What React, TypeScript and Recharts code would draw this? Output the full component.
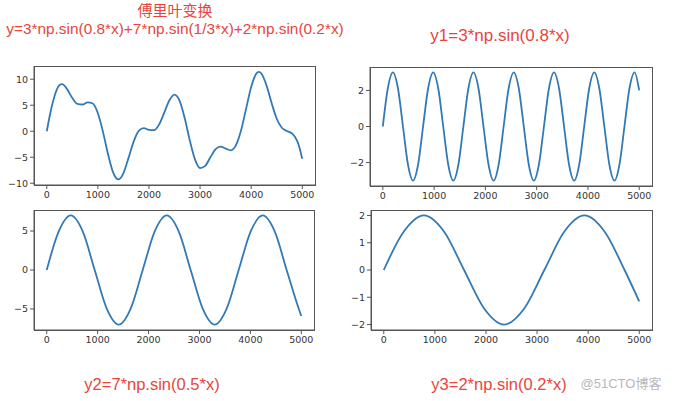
import { LineChart, Line, XAxis, YAxis } from 'recharts';

const LINE = '#3279b5';
const FRAME = '#555';
const RED = '#e8453c';

const X_DOMAIN: [number, number] = [-250, 5249];
const X_TICKS = [0, 1000, 2000, 3000, 4000, 5000];

// y = 3sin(0.8x) + 7sin(x/3) + 2sin(0.2x)
const sumX = [
  0, 100, 200, 250, 300, 350, 400, 500, 600, 700, 800, 900, 1000, 1100, 1200, 1300, 1350, 1400,
  1450, 1500, 1600, 1700, 1800, 1900, 2000, 2100, 2200, 2300, 2400, 2500, 2600, 2700, 2800,
  2900, 3000, 3100, 3200, 3300, 3400, 3500, 3600, 3700, 3800, 3900, 4000, 4100, 4150, 4200,
  4300, 4400, 4500, 4600, 4700, 4800, 4900, 4950, 4999,
];
const sumY = [
  0, 4.84, 8.11, 8.87, 9.05, 8.73, 8.06, 6.38, 5.24, 5.14, 5.55, 5.32, 3.45, -0.12, -4.47, -7.96,
  -8.93, -9.26, -8.94, -8.04, -5.12, -2.0, 0.06, 0.59, 0.24, 0.2, 1.32, 3.59, 5.96, 7.03, 5.83,
  2.48, -1.81, -5.41, -7.08, -6.67, -5.04, -3.51, -2.98, -3.34, -3.67, -2.73, 0.08, 4.3, 8.49,
  11.07, 11.41, 11.1, 8.81, 5.42, 2.4, 0.67, 0.04, -0.43, -1.86, -3.3, -5.3,
];

// y1
const y1X = [
  0, 98, 196, 295, 393, 491, 589, 687, 785, 884, 982, 1080, 1178, 1276, 1374, 1473, 1571, 1669,
  1767, 1865, 1963, 2062, 2160, 2258, 2356, 2454, 2553, 2651, 2749, 2847, 2945, 3043, 3142, 3240,
  3338, 3436, 3534, 3632, 3731, 3829, 3927, 4025, 4123, 4221, 4320, 4418, 4516, 4614, 4712, 4810,
  4909, 4999,
];
const y1Y = [
  0, 2.12, 3, 2.12, 0, -2.12, -3, -2.12,
  0, 2.12, 3, 2.12, 0, -2.12, -3, -2.12,
  0, 2.12, 3, 2.12, 0, -2.12, -3, -2.12,
  0, 2.12, 3, 2.12, 0, -2.12, -3, -2.12,
  0, 2.12, 3, 2.12, 0, -2.12, -3, -2.12,
  0, 2.12, 3, 2.12, 0, -2.12, -3, -2.12,
  0, 2.12, 3, 2.0,
];

// y2
const y2X = [
  0, 236, 471, 707, 942, 1178, 1414, 1649, 1885, 2121, 2356, 2592, 2827, 3063, 3299, 3534, 3770,
  4006, 4241, 4477, 4712, 4948, 4999,
];
const y2Y = [
  0, 4.95, 7, 4.95, 0, -4.95, -7, -4.95, 0, 4.95, 7, 4.95, 0, -4.95, -7, -4.95, 0, 4.95, 7, 4.95,
  0, -4.95, -5.9,
];

// y3
const y3X = [0, 393, 785, 1178, 1571, 1963, 2356, 2749, 3142, 3534, 3927, 4320, 4712, 4999];
const y3Y = [0, 1.41, 2, 1.41, 0, -1.41, -2, -1.41, 0, 1.41, 2, 1.41, 0, -1.15];

const fmt = (v: number) => String(v).replace('-', '\u2212');

type Box = { left: number; top: number; width: number; height: number };

function Panel({
  xs,
  ys,
  yDomain,
  yTicks,
  box,
}: {
  xs: number[];
  ys: number[];
  yDomain: [number, number];
  yTicks: number[];
  box: Box;
}) {
  const data = xs.map((x, i) => ({ x, y: ys[i] }));
  const yw = 40;
  const xh = 24;
  const m = 2;
  const tick = { fontSize: 9.5, fill: '#333', fontFamily: 'DejaVu Sans' };
  return (
    <>
      <div style={{ position: 'absolute', left: box.left - yw, top: box.top - m }}>
        <LineChart
          width={box.width + yw + m}
          height={box.height + m + xh}
          data={data}
          margin={{ top: m, right: m, bottom: 0, left: 0 }}
        >
          <XAxis
            dataKey="x"
            type="number"
            domain={X_DOMAIN}
            ticks={X_TICKS}
            interval={0}
            allowDataOverflow
            height={xh}
            tickSize={4}
            tickMargin={2}
            tick={tick}
            axisLine={{ stroke: FRAME }}
            tickLine={{ stroke: FRAME }}
          />
          <YAxis
            type="number"
            domain={yDomain}
            ticks={yTicks}
            interval={0}
            allowDataOverflow
            width={yw}
            tickSize={4}
            tickMargin={2}
            tick={tick}
            tickFormatter={fmt}
            axisLine={{ stroke: FRAME }}
            tickLine={{ stroke: FRAME }}
          />
          <Line
            dataKey="y"
            type="monotone"
            dot={false}
            stroke={LINE}
            strokeWidth={1.8}
            isAnimationActive={false}
          />
        </LineChart>
      </div>
      {/* axes frame (top/right spines) */}
      <div
        style={{
          position: 'absolute',
          boxSizing: 'border-box',
          left: box.left - 0.5,
          top: box.top - 0.5,
          width: box.width + 1,
          height: box.height + 1,
          border: `1px solid ${FRAME}`,
          pointerEvents: 'none',
        }}
      />
    </>
  );
}

const label = (text: string, cx: number, cy: number, size: number, color = RED) => (
  <div
    style={{
      position: 'absolute',
      left: cx - 200,
      top: cy - 12,
      width: 400,
      height: 24,
      lineHeight: '24px',
      textAlign: 'center',
      fontSize: size,
      color,
      whiteSpace: 'nowrap',
      fontFamily: '"Liberation Sans", "Noto Sans CJK SC", sans-serif',
    }}
  >
    {text}
  </div>
);

export default function App() {
  return (
    <div
      style={{
        position: 'absolute',
        left: 0,
        top: 0,
        width: 675,
        height: 401,
        background: '#fff',
        overflow: 'hidden',
      }}
    >
      {label('傅里叶变换', 175, 11, 15)}
      {label('y=3*np.sin(0.8*x)+7*np.sin(1/3*x)+2*np.sin(0.2*x)', 175, 29, 15.4)}
      {label('y1=3*np.sin(0.8*x)', 500, 36, 17)}
      {label('y2=7*np.sin(0.5*x)', 152, 384, 16.5)}
      {label('y3=2*np.sin(0.2*x)', 499, 384, 16.5)}
      {label('@51CTO博客', 621, 384, 13, '#b8b8b8')}

      <Panel
        xs={sumX}
        ys={sumY}
        yDomain={[-10.34, 12.54]}
        yTicks={[-10, -5, 0, 5, 10]}
        box={{ left: 34, top: 66, width: 281, height: 119 }}
      />
      <Panel
        xs={y1X}
        ys={y1Y}
        yDomain={[-3.3, 3.3]}
        yTicks={[-2, 0, 2]}
        box={{ left: 370, top: 67, width: 282, height: 119 }}
      />
      <Panel
        xs={y2X}
        ys={y2Y}
        yDomain={[-7.7, 7.7]}
        yTicks={[-5, 0, 5]}
        box={{ left: 34, top: 210, width: 280, height: 120 }}
      />
      <Panel
        xs={y3X}
        ys={y3Y}
        yDomain={[-2.2, 2.2]}
        yTicks={[-2, -1, 0, 1, 2]}
        box={{ left: 371, top: 210, width: 281, height: 120 }}
      />
    </div>
  );
}
